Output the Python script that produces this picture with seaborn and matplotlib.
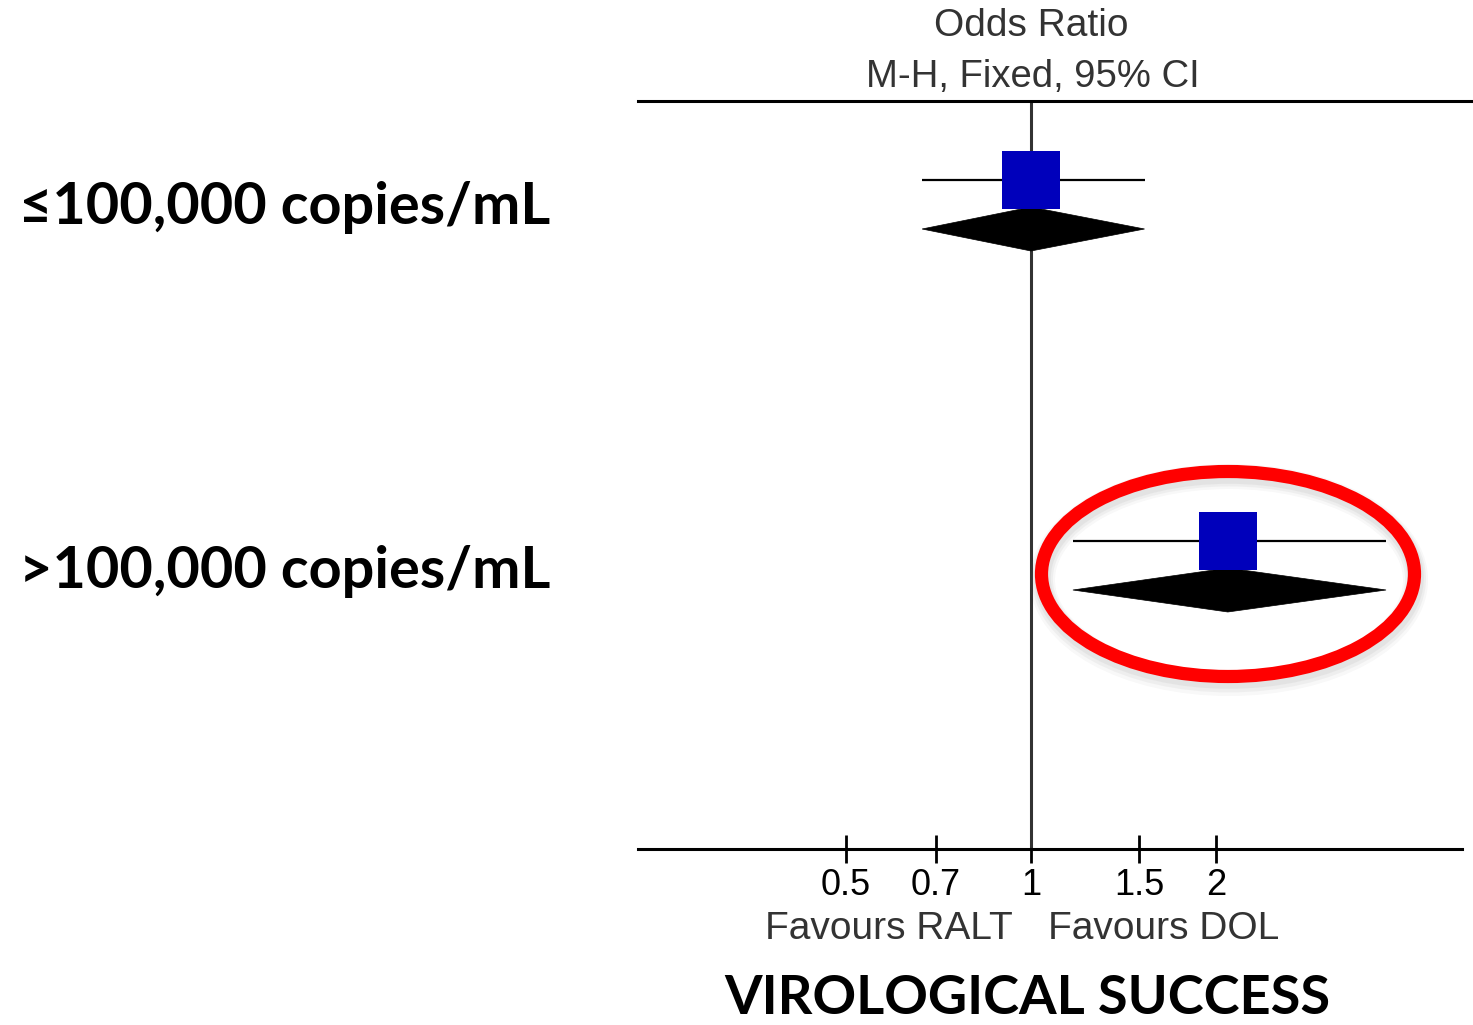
import numpy as np
import pandas as pd
import seaborn as sns
import matplotlib
matplotlib.use("Agg")
import matplotlib.pyplot as plt
from matplotlib.patches import Ellipse, Polygon

# ---- data ----
subgroups = ["≤100,000 copies/mL", ">100,000 copies/mL"]
odds_ratio = [1.00, 2.09]
ci_lower = [0.665, 1.17]
ci_upper = [1.53, 3.78]
tick_values = [0.5, 0.7, 1, 1.5, 2]
tick_labels = ["0.5", "0.7", "1", "1.5", "2"]
header_lines = ["Odds Ratio", "M-H, Fixed, 95% CI"]
favours_left = "Favours RALT"
favours_right = "Favours DOL"
footer_title = "VIROLOGICAL SUCCESS"

sns.set_theme(style="white")
plt.rcParams["font.family"] = ["Liberation Sans", "DejaVu Sans"]

W, H = 1473, 1025
fig = plt.figure(figsize=(W / 100, H / 100), dpi=100)

def fx(px):
    return px / W

def fy(py):
    return 1 - py / H

# axes from x 638..1473, y 101..849 (pixels)
ax = fig.add_axes([fx(638), fy(849), fx(1473 - 638), (849 - 101) / H])
ax.set_xscale("log")
x_left = np.exp((638 - 1031) / 267)
x_right = np.exp((1473 - 1031) / 267)
ax.set_xlim(x_left, x_right)
ax.set_ylim(748, 0)

row_sq_y = [79, 440]      # square / CI line row positions (axes px from top)
row_dia_y = [128, 489]   # diamond centres

df = pd.DataFrame({"sub": subgroups, "or": odds_ratio, "lo": ci_lower,
                   "hi": ci_upper, "y": row_sq_y, "yd": row_dia_y})

# vertical line of no effect
ax.axvline(1, color="#333333", lw=2.2, zorder=1)

# CI lines
ax.hlines(df["y"], df["lo"], df["hi"], color="black", lw=1.6, zorder=2)

# diamonds
for _, r in df.iterrows():
    dh = 22
    poly = Polygon([[r["lo"], r["yd"]], [r["or"], r["yd"] - dh],
                    [r["hi"], r["yd"]], [r["or"], r["yd"] + dh]],
                   closed=True, facecolor="black", edgecolor="black", lw=0.5, zorder=3)
    ax.add_patch(poly)

# squares
sns.scatterplot(data=df, x="or", y="y", marker="s", s=41.8 ** 2, color="#0000BB",
                edgecolor="none", linewidth=0, ax=ax, zorder=4, legend=False)

ax.set_xlabel("")
ax.set_ylabel("")
ax.set_yticks([])
ax.set_xticks(tick_values)
ax.set_xticklabels(tick_labels)
ax.xaxis.set_minor_locator(matplotlib.ticker.NullLocator())
ax.tick_params(axis="x", direction="inout", length=20, width=2, color="black",
               labelsize=26, labelcolor="black", pad=4, bottom=True)
for side in ["left", "right"]:
    ax.spines[side].set_visible(False)
ax.spines["top"].set_color("black")
ax.spines["top"].set_linewidth(2.2)
ax.spines["bottom"].set_color("black")
ax.spines["bottom"].set_linewidth(2.2)
ax.spines["bottom"].set_bounds(x_left, np.exp((1462 - 1031) / 267))
ax.patch.set_alpha(0)

# header
fig.text(fx(1031), fy(26), header_lines[0], ha="center", va="center", fontsize=28, color="#333333")
fig.text(fx(1033), fy(77), header_lines[1], ha="center", va="center", fontsize=27.5, color="#333333")

# favours labels
fig.text(fx(1013), fy(929), favours_left, ha="right", va="center", fontsize=28, color="#333333")
fig.text(fx(1048), fy(929), favours_right, ha="left", va="center", fontsize=28, color="#333333")

# subgroup labels
for lab, py in zip(subgroups, [207, 571]):
    fig.text(fx(19), fy(py), lab, ha="left", va="center", fontsize=41.5,
             fontweight="bold", color="black", family=["Lato", "DejaVu Sans"])

fig.text(fx(1027), fy(999), footer_title, ha="center", va="center", fontsize=39,
         fontweight="bold", color="black", family=["Lato", "DejaVu Sans"])

# red highlight ellipse with soft shadow
for k, a in enumerate([0.10, 0.08, 0.06]):
    shadow = Ellipse((fx(1229), fy(578 + k)), fx(373), (205 + k) / H, transform=fig.transFigure,
                     fill=False, edgecolor="#888888", lw=12 + 3 * k, alpha=a, zorder=5)
    fig.add_artist(shadow)
ell = Ellipse((fx(1228), fy(574)), fx(373), 205 / H, transform=fig.transFigure,
              fill=False, edgecolor="#FF0000", lw=9.5, zorder=6)
fig.add_artist(ell)

fig.savefig("out.png", dpi=100)
